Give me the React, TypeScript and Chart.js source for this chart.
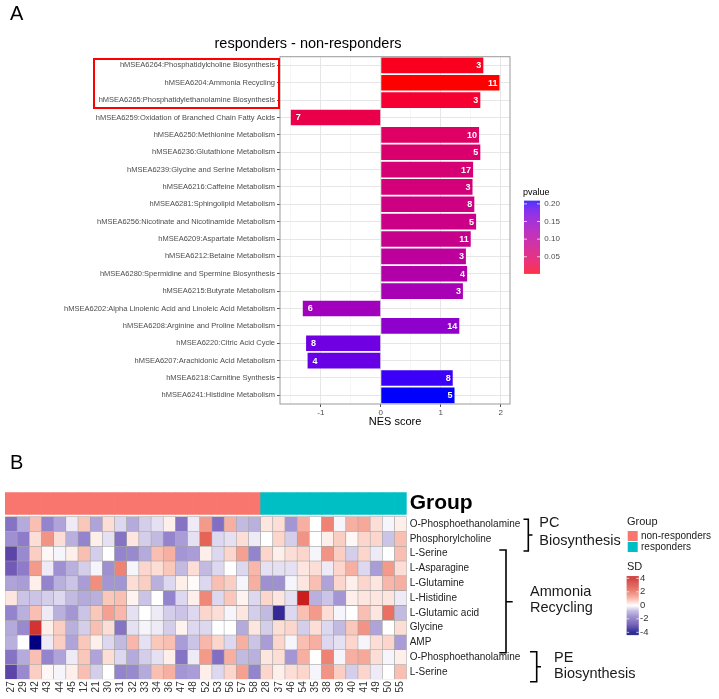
import React, { useEffect, useRef } from 'react';
import { Chart, registerables } from 'chart.js';

Chart.register(...registerables);

const FONT = '"Liberation Sans", Arial, Helvetica, sans-serif';
Chart.defaults.font.family = FONT;

// ---------------- Panel A data ----------------
const pathways = [
  'hMSEA6264:Phosphatidylcholine Biosynthesis',
  'hMSEA6204:Ammonia Recycling',
  'hMSEA6265:Phosphatidylethanolamine Biosynthesis',
  'hMSEA6259:Oxidation of Branched Chain Fatty Acids',
  'hMSEA6250:Methionine Metabolism',
  'hMSEA6236:Glutathione Metabolism',
  'hMSEA6239:Glycine and Serine Metabolism',
  'hMSEA6216:Caffeine Metabolism',
  'hMSEA6281:Sphingolipid Metabolism',
  'hMSEA6256:Nicotinate and Nicotinamide Metabolism',
  'hMSEA6209:Aspartate Metabolism',
  'hMSEA6212:Betaine Metabolism',
  'hMSEA6280:Spermidine and Spermine Biosynthesis',
  'hMSEA6215:Butyrate Metabolism',
  'hMSEA6202:Alpha Linolenic Acid and Linoleic Acid Metabolism',
  'hMSEA6208:Arginine and Proline Metabolism',
  'hMSEA6220:Citric Acid Cycle',
  'hMSEA6207:Arachidonic Acid Metabolism',
  'hMSEA6218:Carnitine Synthesis',
  'hMSEA6241:Histidine Metabolism',
];
const nesScores = [1.71, 1.98, 1.66, -1.5, 1.64, 1.66, 1.54, 1.53, 1.56, 1.59, 1.5, 1.42, 1.44, 1.37, -1.3, 1.31, -1.245, -1.22, 1.2, 1.23];
const setSizes = [3, 11, 3, 7, 10, 5, 17, 3, 8, 5, 11, 3, 4, 3, 6, 14, 8, 4, 8, 5];
const pValues = [0.007, 0.003, 0.013, 0.028, 0.048, 0.055, 0.061, 0.065, 0.073, 0.077, 0.083, 0.098, 0.112, 0.125, 0.132, 0.15, 0.175, 0.18, 0.2, 0.209];
const nesTicks = [-1.5, -1, -0.5, 0, 0.5, 1, 1.5, 2];
const pTicks = [0.05, 0.1, 0.15, 0.2];

// ---------------- Panel B data ----------------
const sampleIds = ['27', '29', '42', '43', '44', '45', '12', '21', '30', '31', '32', '33', '34', '36', '47', '48', '52', '53', '56', '57', '58', '28', '37', '46', '54', '35', '38', '39', '40', '41', '49', '50', '55'];
const sampleGroups = [
  'non-responders', 'non-responders', 'non-responders', 'non-responders', 'non-responders', 'non-responders', 'non-responders',
  'non-responders', 'non-responders', 'non-responders', 'non-responders', 'non-responders', 'non-responders', 'non-responders',
  'non-responders', 'non-responders', 'non-responders', 'non-responders', 'non-responders', 'non-responders', 'non-responders',
  'responders', 'responders', 'responders', 'responders', 'responders', 'responders',
  'responders', 'responders', 'responders', 'responders', 'responders', 'responders',
];
const groupNames = ['non-responders', 'responders'];
const metabolites = ['O-Phosphoethanolamine', 'Phosphorylcholine', 'L-Serine', 'L-Asparagine', 'L-Glutamine', 'L-Histidine', 'L-Glutamic acid', 'Glycine', 'AMP', 'O-Phosphoethanolamine', 'L-Serine'];

const sdOPhosphoethanolamine = [-1.8, -0.9, 0.8, -1.5, -1.0, -0.2, 0.7, -1.0, 0.4, -0.4, -0.9, -0.5, -0.3, 0.2, -1.8, -0.2, 1.3, -1.9, 1.0, -0.7, -0.8, 0.3, 0.4, -1.2, 1.0, 0, 1.7, -0.1, 1.0, 1.1, 0.4, -0.1, 0.2];
const sdPhosphorylcholine = [-1.3, -1.6, 0.4, 1.4, 0.4, -0.8, -1.5, 0.2, -0.3, -1.8, 0.3, -0.5, -0.7, -1.5, -1.1, -0.3, 2.2, -0.4, -0.3, 0.4, -0.2, 0, 0.5, -0.5, 1.4, 0, 0.2, 0.6, 0.1, 0.5, 0.5, -0.6, 0.8];
const sdSerine = [-2.8, -1.4, 0.6, 0.1, -0.1, 0.2, 0.8, -0.5, 0, -1.5, -1.4, -0.9, 0.8, 1.0, -1.2, -1.1, 0.2, -0.4, 0.5, 1.2, -1.5, 0.5, 0.2, 0.4, 0.5, -0.1, 1.4, 0.6, -0.5, 0.5, -0.2, 0, 0.8];
const sdAsparagine = [-2.3, -1.6, 1.3, -0.2, -1.3, -0.8, -0.5, -0.1, -1.3, 1.7, -0.1, 0.5, 0.4, 0.7, -0.7, 0.4, -0.7, -0.4, 0, -0.4, 0.9, -0.3, -0.3, -0.3, 0.3, 0.4, -0.2, 0.5, 1.0, -0.4, -1.1, 1.3, 0.4];
const sdGlutamine = [-1.0, -1.1, 0.2, -1.5, -0.8, -0.6, -1.1, 1.5, -1.2, -1.2, 0.4, 0.6, -0.8, -0.4, 0.2, 0.05, -0.4, 0.8, 0.6, -0.1, 1.0, -1.3, -1.3, -0.1, 0.3, 0.8, -1.0, 0.5, 0.2, 0.5, 0.3, 0.9, 1.0];
const sdHistidine = [0.3, -0.6, -0.6, -0.5, -0.4, -0.7, -0.9, -0.8, 0.7, 0.8, 0.15, -0.6, 0, -1.5, -0.4, 0.2, 1.6, -0.4, 0.7, 0.15, -0.4, 0.5, 0.3, -0.3, 4.0, -0.8, -0.6, -1.2, 0.2, 0.3, 0.3, 0.3, -0.2];
const sdGlutamicAcid = [-1.5, -0.8, 0.8, -0.2, -0.8, -1.2, -0.6, 0.7, 1.2, 0.9, -0.3, 0, -0.2, -0.5, -0.6, -0.4, 0.5, 0.4, -0.1, 0.3, -0.5, -0.7, -3.3, -0.4, 0.8, 1.3, 0.4, -0.1, 0, 0.8, 0.3, 2.0, -0.7];
const sdGlycine = [-0.9, -1.4, 3.4, 0.2, 0.6, -0.8, -0.5, 0.8, 0.4, -1.8, -0.3, -0.1, -0.2, -0.5, 0.15, -0.4, -0.4, 0, 0, -0.9, 0.3, -0.5, 0.4, 0.5, -0.5, 0.4, -0.4, -0.7, 0.7, 1.4, -1.0, 0, 0.4];
const sdAMP = [-0.8, 0, -4.0, -0.2, 0.6, -1.0, 0.7, 0.2, -0.4, -0.7, 0.9, -0.3, 0.7, 0.8, -1.1, -0.6, 0.9, 0.5, -0.4, 1.0, -0.6, -1.1, 0.5, -0.1, 0.8, 1.0, -0.4, -0.3, 0.5, -0.1, 0.4, 0.5, -1.1];
const sdMatrix = [sdOPhosphoethanolamine, sdPhosphorylcholine, sdSerine, sdAsparagine, sdGlutamine, sdHistidine, sdGlutamicAcid, sdGlycine, sdAMP, sdOPhosphoethanolamine, sdSerine];
const sdTicks = [4, 2, 0, -2, -4];

// ---------------- styles ----------------
const GROUP_COLORS: Record<string, string> = { 'non-responders': '#F8766D', responders: '#00BFC4' };
const SD_STOPS: number[][] = [
  [-4, 0, 0, 128],
  [-2.8, 92, 68, 168],
  [-1.6, 142, 124, 202],
  [-0.8, 186, 176, 222],
  [0, 255, 255, 255],
  [0.5, 252, 214, 204],
  [1.2, 245, 160, 145],
  [2.2, 230, 100, 86],
  [4, 200, 30, 30],
];
function sdColor(v: number): string {
  const x = Math.max(-4, Math.min(4, v));
  for (let i = 0; i < SD_STOPS.length - 1; i++) {
    const a = SD_STOPS[i], b = SD_STOPS[i + 1];
    if (x >= a[0] && x <= b[0]) {
      const t = (x - a[0]) / (b[0] - a[0]);
      const c = [1, 2, 3].map((k) => Math.round(a[k] + (b[k] - a[k]) * t));
      return `rgb(${c[0]},${c[1]},${c[2]})`;
    }
  }
  return '#fff';
}

function lin(c: number) { c /= 255; return c <= 0.04045 ? c / 12.92 : Math.pow((c + 0.055) / 1.055, 2.4); }
function gam(c: number) { const v = c <= 0.0031308 ? 12.92 * c : 1.055 * Math.pow(c, 1 / 2.4) - 0.055; return Math.max(0, Math.min(255, Math.round(v * 255))); }
function toLab(rgb: number[]) {
  const [r, g, b] = rgb.map(lin);
  const X = (0.4124 * r + 0.3576 * g + 0.1805 * b) / 0.95047;
  const Y = 0.2126 * r + 0.7152 * g + 0.0722 * b;
  const Z = (0.0193 * r + 0.1192 * g + 0.9505 * b) / 1.08883;
  const f = (t: number) => (t > 0.008856 ? Math.cbrt(t) : 7.787 * t + 16 / 116);
  const fx = f(X), fy = f(Y), fz = f(Z);
  return [116 * fy - 16, 500 * (fx - fy), 200 * (fy - fz)];
}
function fromLab(lab: number[]) {
  const fy = (lab[0] + 16) / 116, fx = fy + lab[1] / 500, fz = fy - lab[2] / 200;
  const fi = (t: number) => (t * t * t > 0.008856 ? t * t * t : (t - 16 / 116) / 7.787);
  const X = 0.95047 * fi(fx), Y = fi(fy), Z = 1.08883 * fi(fz);
  const r = 3.2406 * X - 1.5372 * Y - 0.4986 * Z;
  const g = -0.9689 * X + 1.8758 * Y + 0.0415 * Z;
  const b = 0.0557 * X - 0.204 * Y + 1.057 * Z;
  return [gam(Math.max(0, r)), gam(Math.max(0, g)), gam(Math.max(0, b))];
}
const LAB_LOW = toLab([255, 0, 0]);
const LAB_HIGH = toLab([0, 0, 255]);
const P_MIN = Math.min(...pValues);
const P_MAX = Math.max(...pValues);
function pColor(p: number): string {
  const t0 = Math.max(0, Math.min(1, (p - P_MIN) / (P_MAX - P_MIN)));
  const t = Math.pow(t0, 0.7);
  const c = fromLab([0, 1, 2].map((k) => LAB_LOW[k] + (LAB_HIGH[k] - LAB_LOW[k]) * t));
  return `rgb(${c[0]},${c[1]},${c[2]})`;
}

const GROUP_BAND = [11.16, 12.65];
const BOTTOM_TOP = 440;

const topDecor = {
  id: 'topDecor',
  afterDatasetsDraw(chart: any) {
    const ctx = chart.ctx;
    const meta = chart.getDatasetMeta(0);
    const xs = chart.scales.x;
    ctx.save();
    ctx.fillStyle = '#ffffff';
    ctx.font = `bold 9px ${FONT}`;
    ctx.textBaseline = 'middle';
    meta.data.forEach((bar: any, i: number) => {
      const v = nesScores[i];
      const xEnd = xs.getPixelForValue(v);
      if (v >= 0) {
        ctx.textAlign = 'right';
        ctx.fillText(String(setSizes[i]), xEnd - 2, bar.y + 0.5);
      } else {
        ctx.textAlign = 'left';
        ctx.fillText(String(setSizes[i]), xEnd + 5, bar.y + 0.5);
      }
    });
    ctx.restore();
  },
  afterDraw(chart: any) {
    const ctx = chart.ctx;
    const a = chart.chartArea;
    ctx.save();
    ctx.strokeStyle = '#9a9a9a';
    ctx.lineWidth = 1;
    ctx.strokeRect(a.left, a.top, a.right - a.left, a.bottom - a.top);
    ctx.fillStyle = '#000';
    ctx.textBaseline = 'middle';
    ctx.textAlign = 'left';
    ctx.font = `20px ${FONT}`;
    ctx.fillText('A', 10, 14);
    ctx.textAlign = 'center';
    ctx.font = `14.5px ${FONT}`;
    ctx.fillText('responders - non-responders', 308, 44);
    ctx.strokeStyle = '#ff0000';
    ctx.lineWidth = 2;
    ctx.strokeRect(94, 59, 185, 49);
    ctx.textAlign = 'left';
    ctx.fillStyle = '#000';
    ctx.font = `9px ${FONT}`;
    ctx.fillText('pvalue', 523, 192.7);
    const bx = 524, bw = 16, byTop = 200.7, byBot = 273.3;
    for (let y = byTop; y < byBot; y += 0.5) {
      const p = P_MAX - ((y - byTop) / (byBot - byTop)) * (P_MAX - P_MIN);
      ctx.fillStyle = pColor(p);
      ctx.fillRect(bx, y, bw, 0.6);
    }
    ctx.font = `8px ${FONT}`;
    pTicks.forEach((p) => {
      const y = byBot - ((p - P_MIN) / (P_MAX - P_MIN)) * (byBot - byTop);
      ctx.strokeStyle = 'rgba(255,255,255,0.9)';
      ctx.lineWidth = 0.8;
      ctx.beginPath();
      ctx.moveTo(bx, y); ctx.lineTo(bx + 3, y);
      ctx.moveTo(bx + bw - 3, y); ctx.lineTo(bx + bw, y);
      ctx.stroke();
      ctx.fillStyle = '#4D4D4D';
      ctx.fillText(p.toFixed(2), 544.3, y);
    });
    ctx.restore();
  },
};

const bottomDecor = {
  id: 'bottomDecor',
  afterDraw(chart: any) {
    const ctx = chart.ctx;
    ctx.save();
    ctx.translate(0, -BOTTOM_TOP);
    ctx.fillStyle = '#000';
    ctx.textBaseline = 'middle';
    ctx.textAlign = 'left';
    ctx.font = `20px ${FONT}`;
    ctx.fillText('B', 10, 463);

    ctx.strokeStyle = '#000';
    ctx.lineWidth = 1.6;
    const brace = (xh: number, xv: number, y0: number, y1: number, ym: number, xn: number) => {
      ctx.beginPath();
      ctx.moveTo(xh, y0); ctx.lineTo(xv, y0); ctx.lineTo(xv, y1); ctx.lineTo(xh, y1);
      ctx.moveTo(xv, ym); ctx.lineTo(xn, ym);
      ctx.stroke();
    };
    brace(523.5, 528.3, 519.3, 551, 535, 532.5);
    brace(499.3, 506, 550, 652.7, 601.7, 512.7);
    brace(530, 536.7, 651.7, 681.7, 666.7, 541);

    ctx.fillStyle = '#1a1a1a';
    ctx.font = `14.5px ${FONT}`;
    ctx.fillText('PC', 539.3, 523.3);
    ctx.fillText('Biosynthesis', 539.3, 540.7);
    ctx.fillText('Ammonia', 530, 591.7);
    ctx.fillText('Recycling', 530, 608.3);
    ctx.fillText('PE', 554, 657.7);
    ctx.fillText('Biosynthesis', 554, 674.3);

    ctx.fillStyle = '#1a1a1a';
    ctx.font = `11px ${FONT}`;
    ctx.fillText('Group', 627, 521.7);
    groupNames.forEach((g, i) => {
      ctx.fillStyle = GROUP_COLORS[g];
      ctx.fillRect(627.7, 531 + i * 11, 10, 10);
      ctx.fillStyle = '#1a1a1a';
      ctx.font = `10px ${FONT}`;
      ctx.fillText(g, 641, 536 + i * 11);
    });

    ctx.font = `11px ${FONT}`;
    ctx.fillText('SD', 627, 567.3);
    const sx = 626.7, sw = 12, sTop = 576, sBot = 635, zeroY = 605.3, unit = 6.75;
    for (let y = sTop; y < sBot; y += 0.5) {
      ctx.fillStyle = sdColor((zeroY - y) / unit);
      ctx.fillRect(sx, y, sw, 0.6);
    }
    ctx.font = `9.5px ${FONT}`;
    sdTicks.forEach((v) => {
      const y = zeroY - v * unit;
      ctx.strokeStyle = 'rgba(255,255,255,0.9)';
      ctx.lineWidth = 0.8;
      ctx.beginPath();
      ctx.moveTo(sx, y); ctx.lineTo(sx + 2.5, y);
      ctx.moveTo(sx + sw - 2.5, y); ctx.lineTo(sx + sw, y);
      ctx.stroke();
      ctx.fillStyle = '#333';
      ctx.fillText(String(v), 640, y);
    });
    ctx.restore();
  },
};

const rowTickValues = [...metabolites.map((_, r) => 10.5 - r), (GROUP_BAND[0] + GROUP_BAND[1]) / 2];
const rowTickLabels = [...metabolites, 'Group'];

export default function App() {
  const topRef = useRef<HTMLCanvasElement | null>(null);
  const botRef = useRef<HTMLCanvasElement | null>(null);

  useEffect(() => {
    if (!topRef.current || !botRef.current) return;
    const top = new Chart(topRef.current, {
      type: 'bar',
      data: {
        labels: pathways,
        datasets: [
          {
            data: nesScores,
            backgroundColor: pValues.map(pColor),
            borderWidth: 0,
            barPercentage: 0.9,
            categoryPercentage: 1,
          },
        ],
      },
      options: {
        indexAxis: 'y',
        responsive: false,
        animation: false,
        layout: { padding: { left: 0, right: 209, top: 56.7, bottom: 0 } },
        plugins: { legend: { display: false }, tooltip: { enabled: false }, title: { display: false } },
        scales: {
          x: {
            type: 'linear',
            min: -1.68,
            max: 2.155,
            afterBuildTicks: (s: any) => { s.ticks = nesTicks.map((v) => ({ value: v })); },
            afterFit: (s: any) => { s.height = 36; },
            grid: {
              color: (c: any) => (Number.isInteger(c.tick?.value) ? '#E6E6E6' : '#F2F2F2'),
              lineWidth: (c: any) => (Number.isInteger(c.tick?.value) ? 1 : 0.7),
              tickColor: (c: any) => (Number.isInteger(c.tick?.value) ? '#555' : 'rgba(0,0,0,0)'),
              tickLength: 3,
              drawTicks: true,
            },
            border: { display: false },
            ticks: {
              callback: (v: any) => (Number.isInteger(v) ? String(v) : ''),
              color: '#4D4D4D',
              font: { size: 8 },
              padding: 1,
              autoSkip: false,
              maxRotation: 0,
            },
            title: { display: true, text: 'NES score', color: '#000', font: { size: 11 }, padding: { top: 0, bottom: 11 } },
          },
          y: {
            type: 'category',
            afterFit: (s: any) => { s.width = 280; },
            grid: { offset: false, color: '#E6E6E6', tickLength: 3, tickColor: '#555' },
            border: { display: false },
            ticks: { color: '#4D4D4D', font: { size: 7.5 }, padding: 2, autoSkip: false },
          },
        },
      },
      plugins: [topDecor],
    } as any);

    const bottom = new Chart(botRef.current, {
      type: 'bar',
      data: {
        labels: sampleIds,
        datasets: [
          {
            data: sampleIds.map(() => GROUP_BAND),
            backgroundColor: sampleGroups.map((g) => GROUP_COLORS[g]),
            borderWidth: 0,
            grouped: false,
            barPercentage: 1,
            categoryPercentage: 1,
            yAxisID: 'y',
          },
          ...sdMatrix.map((row, r) => ({
            data: row.map(() => [10 - r, 11 - r]),
            backgroundColor: row.map(sdColor),
            borderColor: '#A3A3A3',
            borderWidth: 0.6,
            borderSkipped: false,
            grouped: false,
            barPercentage: 1,
            categoryPercentage: 1,
            yAxisID: 'y',
          })),
        ],
      },
      options: {
        responsive: false,
        animation: false,
        layout: { padding: { left: 5, right: 192.3, top: 52.3, bottom: 0 } },
        plugins: { legend: { display: false }, tooltip: { enabled: false }, title: { display: false } },
        scales: {
          x: {
            type: 'category',
            afterFit: (s: any) => { s.height = 19.7; },
            grid: { display: false, drawTicks: false },
            border: { display: false },
            ticks: { minRotation: 90, maxRotation: 90, autoSkip: false, padding: 2, color: '#333', font: { size: 10 } },
          },
          y: { type: 'linear', display: false, min: 0, max: 12.65 },
          yr: {
            type: 'linear',
            position: 'right',
            min: 0,
            max: 12.65,
            afterBuildTicks: (s: any) => { s.ticks = rowTickValues.map((v) => ({ value: v })); },
            afterFit: (s: any) => { s.width = 120; },
            grid: { display: false, drawTicks: false },
            border: { display: false },
            ticks: {
              autoSkip: false,
              padding: 3,
              callback: (v: any) => {
                const i = rowTickValues.findIndex((t) => Math.abs(t - v) < 1e-6);
                return i >= 0 ? rowTickLabels[i] : '';
              },
              color: (c: any) => (c.tick && c.tick.value > 11 ? '#000' : '#222'),
              font: (c: any) => (c.tick && c.tick.value > 11 ? { size: 21, weight: 'bold' } : { size: 10 }),
            },
          },
        },
      },
      plugins: [bottomDecor],
    } as any);

    return () => {
      top.destroy();
      bottom.destroy();
    };
  }, []);

  return (
    <div style={{ position: 'fixed', left: 0, top: 0, width: 719, height: 699, background: '#fff', overflow: 'hidden' }}>
      <canvas ref={topRef} width={719} height={440} style={{ position: 'absolute', left: 0, top: 0, width: 719, height: 440 }} />
      <canvas ref={botRef} width={719} height={259} style={{ position: 'absolute', left: 0, top: BOTTOM_TOP, width: 719, height: 259 }} />
    </div>
  );
}
